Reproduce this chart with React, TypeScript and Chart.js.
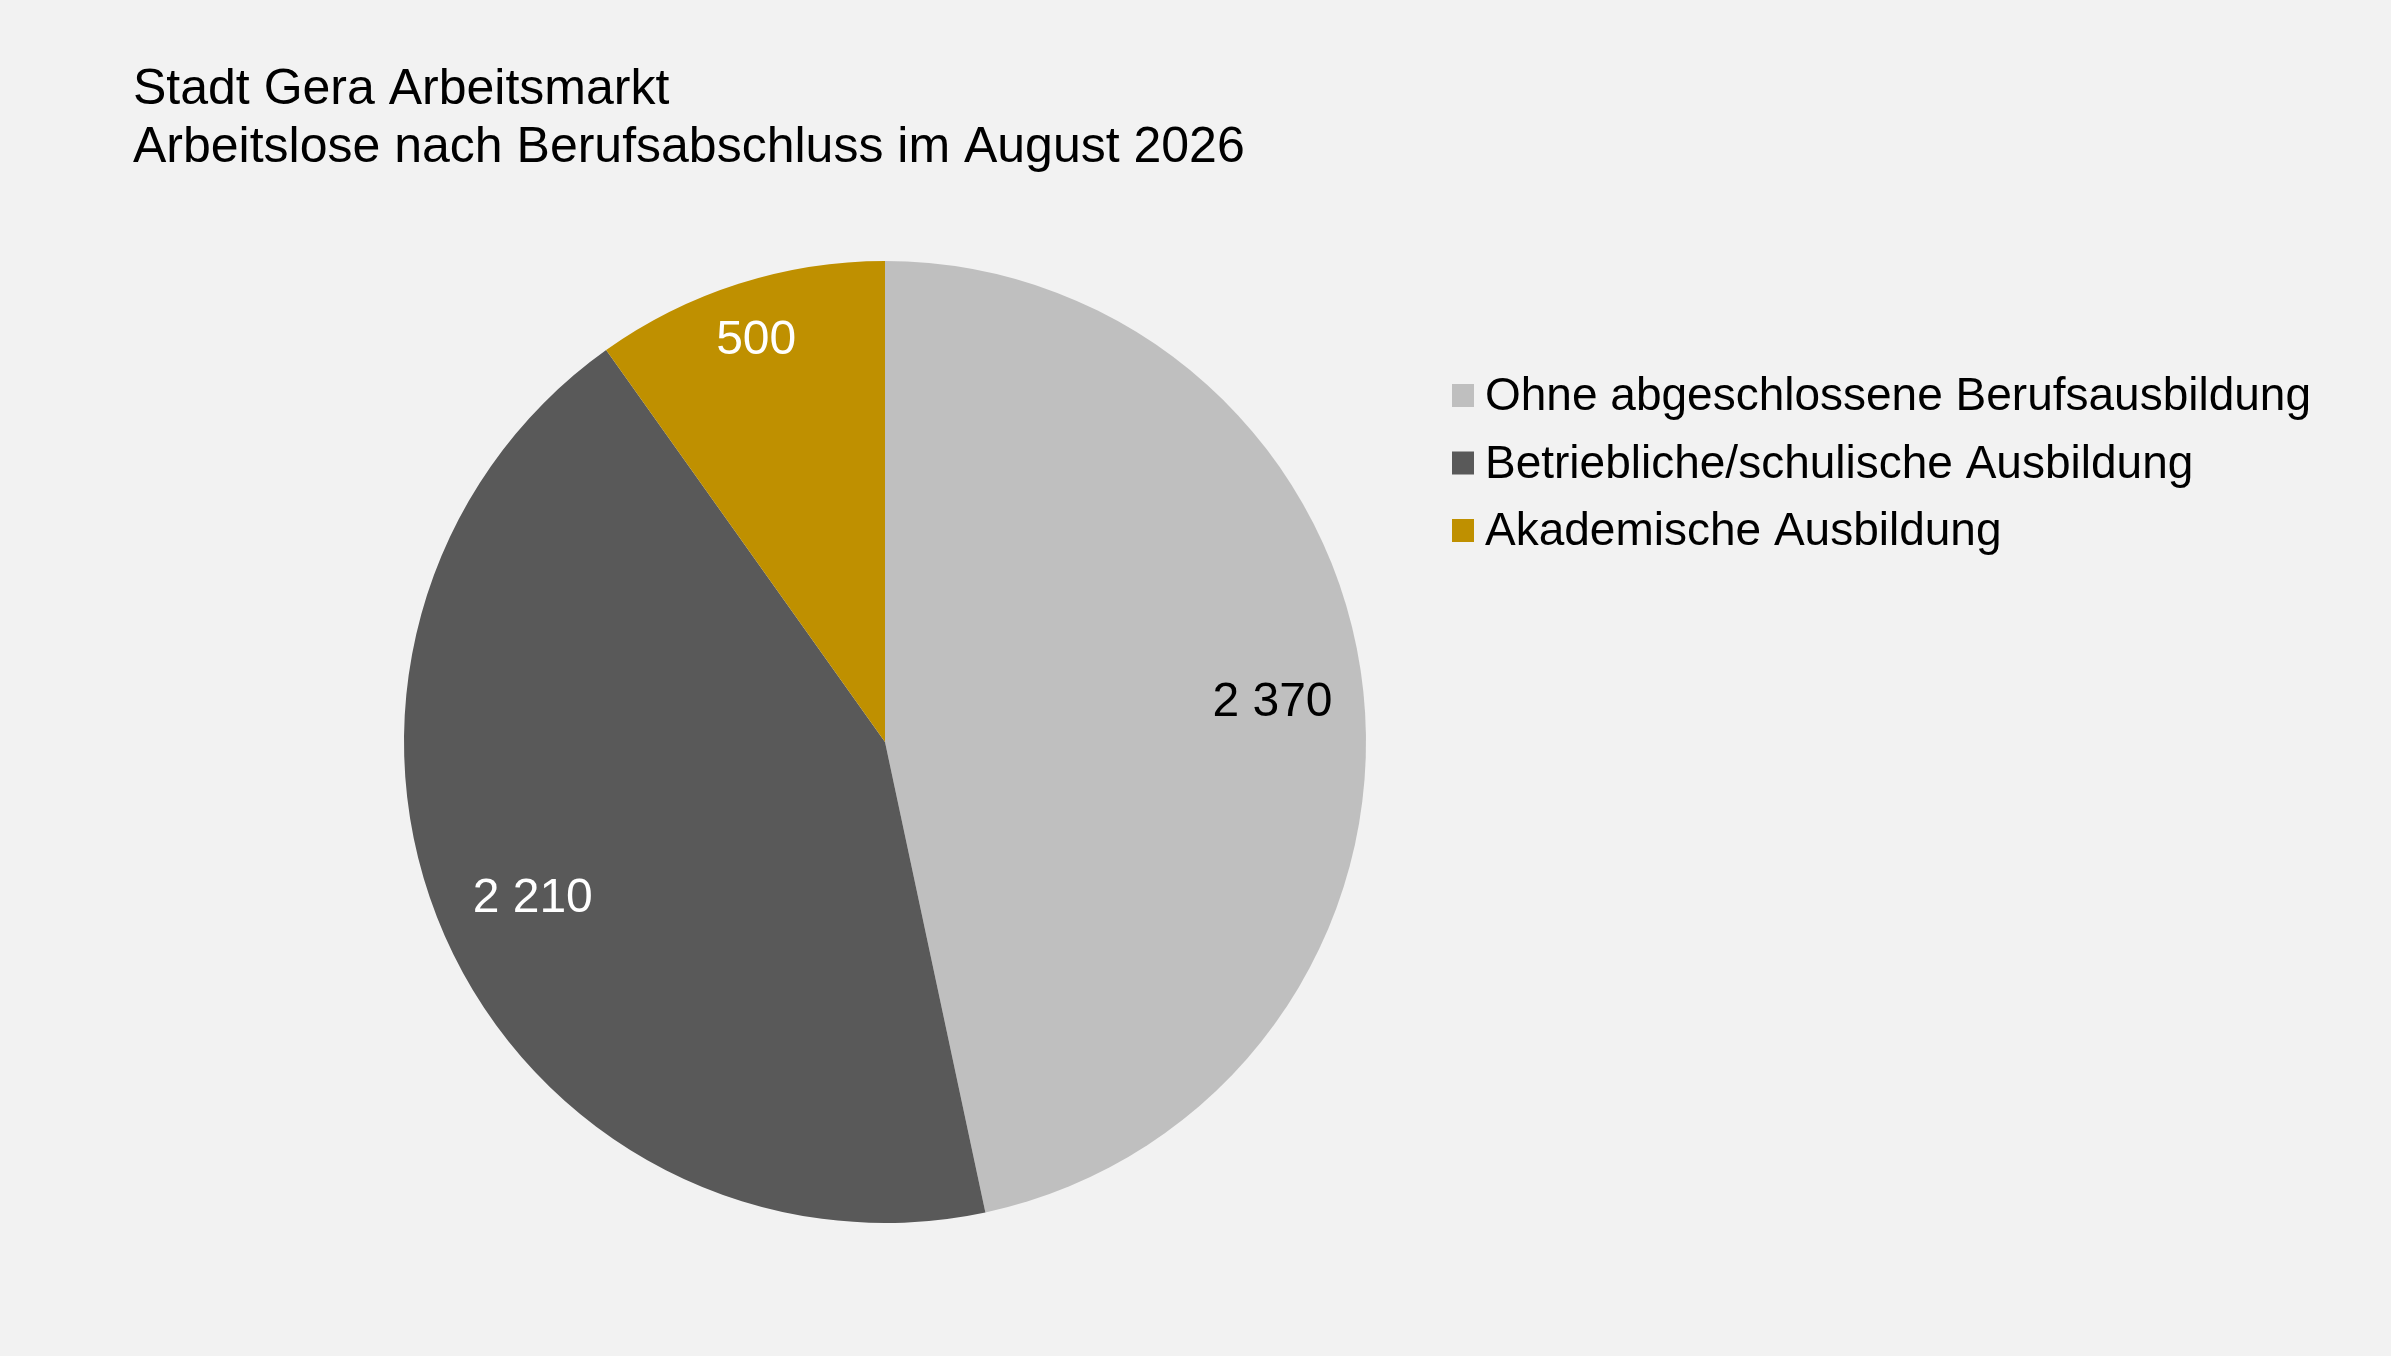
import { useEffect, useRef } from 'react'
import { Chart, ChartConfiguration, Plugin, registerables } from 'chart.js'

Chart.register(...registerables)

const titleLines = ['Stadt Gera Arbeitsmarkt', 'Arbeitslose nach Berufsabschluss im August 2026']
const categories = [
  'Ohne abgeschlossene Berufsausbildung',
  'Betriebliche/schulische Ausbildung',
  'Akademische Ausbildung',
]
const values = [2370, 2210, 500]
const valueLabels = ['2 370', '2 210', '500']

const sliceColors = ['#BFBFBF', '#595959', '#BF9000']
const labelColors = ['#000000', '#FFFFFF', '#FFFFFF']
// how far out from the centre each value label sits (share of the radius)
const labelRadius = [0.81, 0.8, 0.88]

const FONT = "'Liberation Sans', Arial, Helvetica, sans-serif"

const W = 2391
const H = 1356

// title, legend and value labels drawn on the canvas
const textPlugin: Plugin<'pie'> = {
  id: 'textPlugin',
  afterDatasetsDraw(chart) {
    const ctx = chart.ctx
    const meta = chart.getDatasetMeta(0)
    ctx.save()
    ctx.font = `48px ${FONT}`
    ctx.textAlign = 'center'
    ctx.textBaseline = 'middle'
    meta.data.forEach((el, i) => {
      const { x, y, startAngle, endAngle, outerRadius } = (el as any).getProps(
        ['x', 'y', 'startAngle', 'endAngle', 'outerRadius'],
        true
      )
      const mid = (startAngle + endAngle) / 2
      const r = outerRadius * labelRadius[i]
      ctx.fillStyle = labelColors[i]
      ctx.fillText(valueLabels[i], x + Math.cos(mid) * r, y + Math.sin(mid) * r + 2)
    })
    ctx.restore()
  },
  afterDraw(chart) {
    const ctx = chart.ctx
    ctx.save()
    ctx.fillStyle = '#000000'
    ctx.textAlign = 'left'
    ctx.textBaseline = 'alphabetic'
    ctx.font = `50px ${FONT}`
    titleLines.forEach((t, i) => ctx.fillText(t, 133, 104 + i * 58))

    ctx.font = `46px ${FONT}`
    categories.forEach((c, i) => {
      const y = 384 + i * 67.5
      ctx.fillStyle = sliceColors[i]
      ctx.fillRect(1452, y, 22, 23)
      ctx.fillStyle = '#000000'
      ctx.fillText(c, 1485, y + 26)
    })
    ctx.restore()
  },
}

export default function App() {
  const chartRef = useRef<HTMLCanvasElement>(null)
  const chartInstance = useRef<Chart | null>(null)

  useEffect(() => {
    if (!chartRef.current) return
    if (chartInstance.current) chartInstance.current.destroy()

    const config: ChartConfiguration<'pie'> = {
      type: 'pie',
      data: {
        labels: categories,
        datasets: [
          {
            data: values,
            backgroundColor: sliceColors,
            borderWidth: 0,
          },
        ],
      },
      options: {
        responsive: false,
        animation: false,
        devicePixelRatio: 1,
        layout: {
          padding: { left: 404, right: W - 1366, top: 261, bottom: H - 1223 },
        },
        plugins: {
          legend: { display: false },
          title: { display: false },
          tooltip: { enabled: false },
        },
      },
      plugins: [textPlugin],
    }

    chartInstance.current = new Chart(chartRef.current, config)

    return () => {
      if (chartInstance.current) {
        chartInstance.current.destroy()
        chartInstance.current = null
      }
    }
  }, [])

  return (
    <div
      style={{
        position: 'fixed',
        left: 0,
        top: 0,
        width: W,
        height: H,
        background: '#F2F2F2',
      }}
    >
      <canvas ref={chartRef} width={W} height={H} style={{ display: 'block' }}></canvas>
    </div>
  )
}
